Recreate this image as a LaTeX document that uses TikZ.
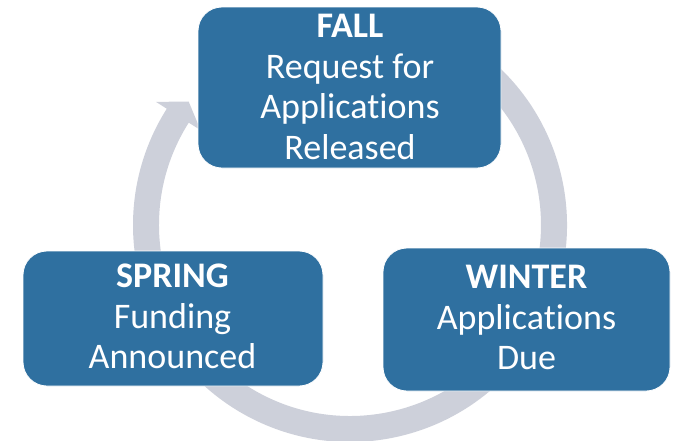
\documentclass[tikz,border=0pt]{standalone}
\usepackage{fontspec}
\setmainfont{Carlito}[Ligatures=NoCommon]
\definecolor{boxblue}{RGB}{47,112,160}
\definecolor{ringgray}{RGB}{205,208,218}
\begin{document}
\begin{tikzpicture}[x=1pt,y=-1pt,
  season/.style={draw=white, line width=0.8pt, fill=boxblue, rounded corners=24pt, inner sep=0pt},
  lbl/.style={text=white, align=center, inner sep=0pt, anchor=north, font=\fontsize{36}{40.8}\selectfont},
  ring/.style={fill=ringgray}]
\useasboundingbox (0,0) rectangle (675,440);
\coordinate (c) at (350,225);
\begin{scope}[shift={(c)}]
  \fill[ring] (300:217) arc[start angle=300, end angle=572.4, radius=217]
    -- (212.4:230) -- (217.4:203) -- (212.4:177) -- (212.4:191)
    arc[start angle=572.4, end angle=300, radius=191] -- cycle;
\end{scope}
\node[season, minimum width=303pt, minimum height=161pt] (fall) at (349.5,87.5) {};
\node[season, minimum width=300pt, minimum height=135pt] (spring) at (173,318.5) {};
\node[season, minimum width=287pt, minimum height=143pt] (winter) at (526.5,319.5) {};
\node[lbl] (fallText) at (350,7) {\rule{0pt}{30pt}\textbf{FALL}\\Request for\\Applications\\Released};
\node[lbl] (springText) at (172.5,257) {\rule{0pt}{30pt}\textbf{SPRING}\\Funding\\Announced};
\node[lbl] (winterText) at (526.5,258) {\rule{0pt}{30pt}\textbf{WINTER}\\Applications\\Due};
\end{tikzpicture}
\end{document}
